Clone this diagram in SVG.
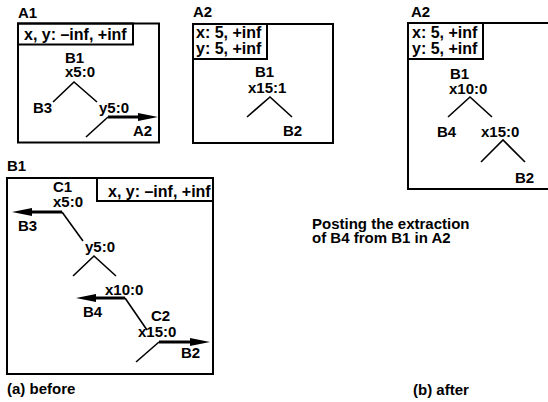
<svg xmlns="http://www.w3.org/2000/svg" width="548" height="402" viewBox="0 0 548 402">
<style>
text{font-family:"Liberation Sans",Arial,Helvetica,sans-serif;font-weight:bold;font-size:15px;fill:#000}
.hd{font-size:16px}
.box{fill:none;stroke:#000;stroke-width:2}
.edge{fill:none;stroke:#000;stroke-width:1.6}
.ptr{fill:none;stroke:#000;stroke-width:3;marker-end:url(#ah)}
</style>
<defs>
<marker id="ah" viewBox="0 0 20 8" markerWidth="20" markerHeight="8" refX="0" refY="4" markerUnits="userSpaceOnUse" orient="auto">
<path d="M0,0 L20,4 L0,8 Z" fill="#000"/>
</marker>
</defs>
<rect width="548" height="402" fill="#fff"/>

<g id="A1">
<text x="18" y="18">A1</text>
<rect class="box" x="18" y="23.5" width="141" height="119"/>
<rect class="box" x="18" y="23.5" width="115" height="21"/>
<text class="hd" x="24" y="40">x, y: –inf, +inf</text>
<text x="65" y="63">B1</text>
<text x="65" y="77">x5:0</text>
<text x="33" y="113">B3</text>
<text x="99" y="113">y5:0</text>
<text x="133" y="136">A2</text>
</g>

<g id="A2-before">
<text x="193" y="17">A2</text>
<rect class="box" x="193" y="24" width="140" height="119"/>
<rect class="box" x="193" y="24" width="74" height="35"/>
<text class="hd" x="196" y="38">x: 5, +inf</text>
<text class="hd" x="196" y="54">y: 5, +inf</text>
<text x="255" y="77">B1</text>
<text x="248" y="93">x15:1</text>
<text x="283" y="136">B2</text>
</g>

<g id="B1">
<text x="7" y="171">B1</text>
<rect class="box" x="7" y="178" width="206" height="196"/>
<rect class="box" x="97" y="178" width="116" height="23"/>
<text class="hd" x="108" y="197">x, y: –inf, +inf</text>
<text x="53" y="192">C1</text>
<text x="53" y="207">x5:0</text>
<text x="18" y="231">B3</text>
<text x="85" y="252">y5:0</text>
<text x="105" y="295">x10:0</text>
<text x="83" y="317">B4</text>
<text x="151" y="321">C2</text>
<text x="138" y="337">x15:0</text>
<text x="181" y="358">B2</text>
</g>

<g id="A2-after">
<text x="411" y="17">A2</text>
<rect class="box" x="408" y="23" width="150" height="166"/>
<rect class="box" x="408" y="23" width="75" height="36"/>
<text class="hd" x="412" y="38">x: 5, +inf</text>
<text class="hd" x="412" y="54">y: 5, +inf</text>
<text x="450" y="79">B1</text>
<text x="449" y="94">x10:0</text>
<text x="437" y="137">B4</text>
<text x="481" y="137">x15:0</text>
<text x="515" y="183">B2</text>
</g>

<g id="captions">
<text x="312" y="229">Posting the extraction</text>
<text x="312" y="243">of B4 from B1 in A2</text>
<text x="7" y="394">(a) before</text>
<text x="413" y="395">(b) after</text>
</g>

<g id="connectors">
<polyline class="edge" points="53,102 74,82 97,102"/>
<line class="edge" x1="86" y1="137" x2="108" y2="117"/>
<line class="ptr" x1="108" y1="117" x2="138" y2="117"/>
<polyline class="edge" points="247,117 270,97 292,117"/>
<line class="ptr" x1="62" y1="212" x2="32" y2="212"/>
<line class="edge" x1="62" y1="212" x2="83" y2="241"/>
<polyline class="edge" points="73,276 94,256 116,276"/>
<line class="ptr" x1="125" y1="298" x2="96" y2="298"/>
<line class="edge" x1="125" y1="298" x2="147" y2="330"/>
<line class="ptr" x1="159" y1="342" x2="190" y2="342"/>
<line class="edge" x1="136" y1="362" x2="159" y2="342"/>
<polyline class="edge" points="448,117 470,97 492,117"/>
<polyline class="edge" points="481,162 503,140 525,162"/>
</g>
</svg>
